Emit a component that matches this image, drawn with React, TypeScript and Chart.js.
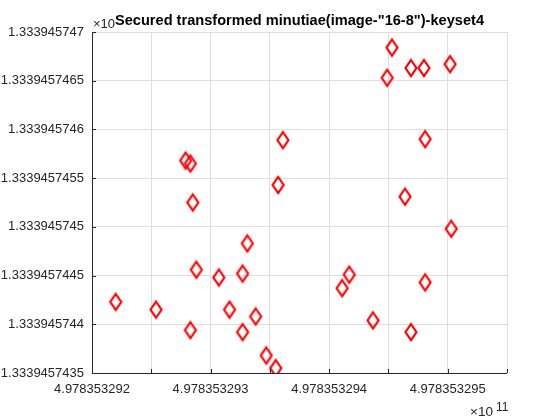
import React, { useEffect, useRef } from "react";
import { Chart, registerables } from "chart.js";

Chart.register(...registerables);

const chartTitle = 'Secured transformed minutiae(image-"16-8")-keyset4';
const xValues = [
  497835329279, 497835329283, 497835329361, 497835329357, 497835329285,
  497835329331, 497835329288, 497835329307, 497835329327, 497835329220, 497835329254,
  497835329316, 497835329338, 497835329283, 497835329327, 497835329347, 497835329355,
  497835329453, 497835329469, 497835329480, 497835329502, 497835329449, 497835329481,
  497835329464, 497835329503, 497835329417, 497835329411, 497835329481, 497835329437,
  497835329469,
];
const yValues = [
  133394574568, 133394574565, 133394574589, 133394574543, 133394574525,
  133394574483, 133394574456, 133394574448, 133394574452, 133394574423, 133394574415,
  133394574415, 133394574408, 133394574394, 133394574392, 133394574368, 133394574355,
  133394574684, 133394574663, 133394574663, 133394574667, 133394574653, 133394574590,
  133394574531, 133394574498, 133394574451, 133394574437, 133394574443, 133394574404,
  133394574392,
];
const xMin = 497835329200;
const xMax = 497835329550;
const xStep = 50;
const xLabelEvery = 100;
const yMin = 133394574350;
const yMax = 133394574700;
const yStep = 50;
const scaleFactor = 1e11;
const exponentText = "11";

const FONT = '"Liberation Sans", Arial, Helvetica, sans-serif';
const AXIS_COLOR = "#262626";

function makeDiamond(): HTMLCanvasElement {
  const c = document.createElement("canvas");
  c.width = 18;
  c.height = 24;
  const g = c.getContext("2d")!;
  g.strokeStyle = "#ff0000";
  g.lineWidth = 2.2;
  g.lineJoin = "miter";
  g.beginPath();
  g.moveTo(9, 4);
  g.lineTo(14.5, 12);
  g.lineTo(9, 20);
  g.lineTo(3.5, 12);
  g.closePath();
  g.stroke();
  return c;
}

function fmtY(v: number): string {
  let s = (v / scaleFactor).toFixed(10);
  s = s.replace(/0+$/, "").replace(/\.$/, "");
  return s;
}

const decorPlugin = {
  id: "decor",
  afterDraw(chart: any) {
    const ctx = chart.ctx as CanvasRenderingContext2D;
    const area = chart.chartArea;
    const xs = chart.scales.x;
    const ys = chart.scales.y;
    ctx.save();
    ctx.strokeStyle = AXIS_COLOR;
    ctx.lineWidth = 1;
    ctx.beginPath();
    ctx.moveTo(area.left + 0.5, area.top);
    ctx.lineTo(area.left + 0.5, area.bottom + 0.5);
    ctx.lineTo(area.right, area.bottom + 0.5);
    ctx.stroke();
    // inward ticks
    ctx.beginPath();
    xs.ticks.forEach((t: any) => {
      const px = Math.round(xs.getPixelForValue(t.value)) + 0.5;
      ctx.moveTo(px, area.bottom);
      ctx.lineTo(px, area.bottom - 4);
    });
    ys.ticks.forEach((t: any) => {
      const py = Math.round(ys.getPixelForValue(t.value)) + 0.5;
      ctx.moveTo(area.left, py);
      ctx.lineTo(area.left + 4, py);
    });
    ctx.stroke();

    // exponent labels
    ctx.fillStyle = AXIS_COLOR;
    ctx.textBaseline = "alphabetic";
    ctx.textAlign = "left";
    ctx.font = `13px ${FONT}`;
    ctx.fillText("\u00d710", area.left + 1, 28);
    ctx.font = `13.5px ${FONT}`;
    ctx.fillText("\u00d710", 470, 416);
    ctx.font = `12px ${FONT}`;
    ctx.fillText(exponentText, 496, 411);

    // title
    ctx.fillStyle = "#000000";
    ctx.font = `bold 14.6px ${FONT}`;
    ctx.textAlign = "center";
    ctx.fillText(chartTitle, (area.left + area.right) / 2, 25);
    ctx.restore();
  },
};

export default function App() {
  const ref = useRef<HTMLCanvasElement | null>(null);
  useEffect(() => {
    if (!ref.current) return;
    const diamond = makeDiamond();
    const points = xValues.map((x, i) => ({ x, y: yValues[i] }));
    const chart = new Chart(ref.current, {
      type: "scatter",
      data: {
        datasets: [
          {
            data: points,
            pointStyle: diamond as any,
            borderColor: "#ff0000",
            backgroundColor: "rgba(0,0,0,0)",
            showLine: false,
          },
        ],
      },
      options: {
        animation: false,
        responsive: false,
        maintainAspectRatio: false,
        layout: { padding: { left: 0, top: 32, right: 53, bottom: 0 } },
        plugins: {
          legend: { display: false },
          tooltip: { enabled: false },
          title: { display: false },
        },
        scales: {
          x: {
            type: "linear",
            min: xMin,
            max: xMax,
            afterFit: (s: any) => {
              s.height = 47;
            },
            grid: { color: "#dfdfdf", drawTicks: false },
            border: { display: false },
            ticks: {
              stepSize: xStep,
              autoSkip: false,
              maxRotation: 0,
              padding: 9,
              color: AXIS_COLOR,
              font: { family: FONT, size: 13 },
              callback: (v: any) => {
                const n = Number(v);
                return Math.abs((n - xMin) % xLabelEvery) < 1e-6
                  ? (n / scaleFactor).toFixed(9)
                  : "";
              },
            },
          },
          y: {
            type: "linear",
            min: yMin,
            max: yMax,
            afterFit: (s: any) => {
              s.width = 92;
            },
            grid: { color: "#dfdfdf", drawTicks: false },
            border: { display: false },
            ticks: {
              stepSize: yStep,
              autoSkip: false,
              padding: 8,
              color: AXIS_COLOR,
              font: { family: FONT, size: 13 },
              callback: (v: any) => fmtY(Number(v)),
            },
          },
        },
      },
      plugins: [decorPlugin],
    });
    return () => chart.destroy();
  }, []);
  return (
    <div style={{ position: "fixed", left: 0, top: 0, width: 560, height: 420, background: "#fff" }}>
      <canvas ref={ref} width={560} height={420} style={{ width: 560, height: 420 }} />
    </div>
  );
}
